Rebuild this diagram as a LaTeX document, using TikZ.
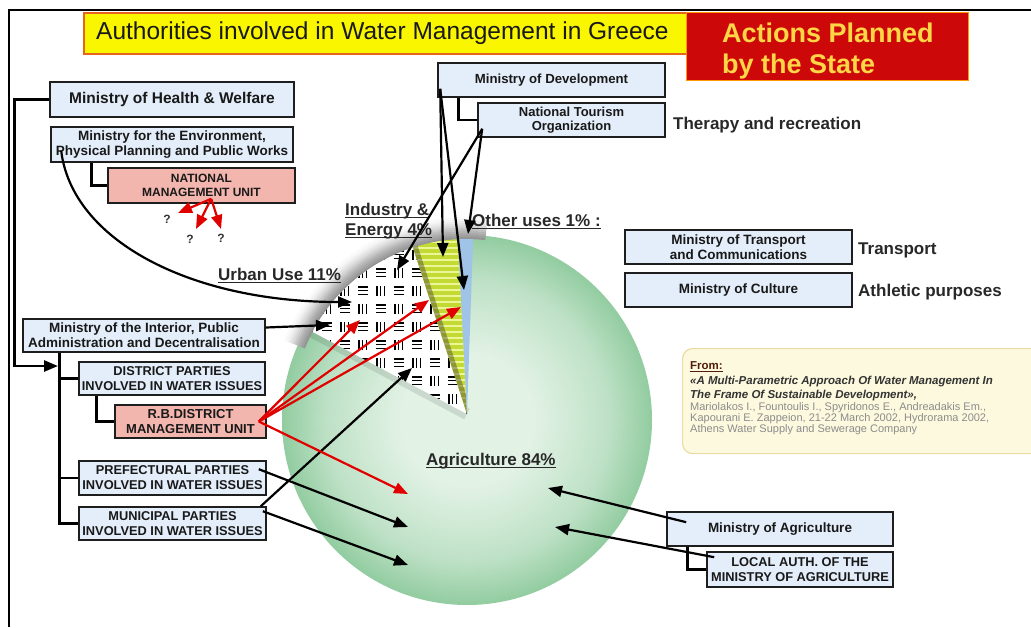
\documentclass[tikz,border=0pt]{standalone}
\usepackage{fontspec}
\setmainfont{Liberation Sans}
\usetikzlibrary{arrows.meta,calc}
\definecolor{boxblue}{RGB}{228,238,250}
\definecolor{boxpink}{RGB}{242,182,174}
\definecolor{boxline}{RGB}{30,30,30}
\definecolor{titley}{RGB}{250,246,0}
\definecolor{titleb}{RGB}{230,100,30}
\definecolor{redbox}{RGB}{204,8,8}
\definecolor{goldtxt}{RGB}{255,214,70}
\definecolor{arrred}{RGB}{225,0,0}
\definecolor{lbl}{RGB}{40,40,40}
\definecolor{gcA}{RGB}{226,242,229}
\definecolor{gcB}{RGB}{190,225,198}
\definecolor{gcC}{RGB}{146,204,160}
\definecolor{ylw}{RGB}{196,218,52}
\definecolor{ylwl}{RGB}{236,246,150}
\definecolor{blu}{RGB}{160,196,232}
\definecolor{frombg}{RGB}{253,249,222}
\definecolor{fromln}{RGB}{232,222,165}
\definecolor{grtxt}{RGB}{140,140,140}
\definecolor{fromc}{RGB}{80,30,10}
\pgfdeclareradialshading{discshade}{\pgfpoint{0bp}{0bp}}{color(0bp)=(gcA); color(9bp)=(gcA); color(19bp)=(gcB); color(25bp)=(gcC); color(50bp)=(gcC)}
\newlength\ulw
\newcommand\myul[2][1.3pt]{\settowidth\ulw{#2}\rlap{\rule[-2.8pt]{\ulw}{#1}}#2}
\begin{document}
\begin{tikzpicture}[x=1pt,y=1pt,
  box/.style={draw=boxline, line width=1.6pt, fill=boxblue, inner sep=0pt, align=center, text=black!90, font=\bfseries\fontsize{13.5}{15}\selectfont},
  pbox/.style={box, fill=boxpink},
  capbox/.style={box, font=\bfseries\fontsize{12.8}{15}\selectfont},
  tree/.style={line width=2.6pt, black},
  arr/.style={line width=2.2pt, -{Triangle[length=14pt,width=11pt]}},
  rarr/.style={arr, arrred},
  lab/.style={font=\bfseries\fontsize{17}{20}\selectfont, text=lbl, inner sep=0pt, anchor=base west},
  src/.style={inner sep=0pt, anchor=base west},
  qm/.style={font=\bfseries\fontsize{12}{14}\selectfont, text=black!80, inner sep=0pt}]
\useasboundingbox (0,0) rectangle (1031,-627);
\fill[white] (0,0) rectangle (1031,-627);
% frame
\draw[line width=2.5pt] (9,-627) -- (9,-10) -- (1031,-10);
% ---------- pie ----------
\coordinate (apex) at (467,-414);
\shade[shading=discshade] (467,-420) circle[radius=185pt];
\draw[line width=12pt, black, opacity=0.10] (apex) -- ([shift={(apex)}]152:184);
\foreach \r/\c in {176/42,178/38,180/34,182/30,184/25,186/20,188/15,190/11,192/7,194/4,196/2}
  \draw[line width=2.3pt, black!\c] ([shift={(apex)}]84:\r) arc[start angle=84, end angle=158, radius=\r pt];
% urban slice
\begin{scope}
\clip (apex) -- ([shift={(apex)}]108:175) arc[start angle=108, end angle=152, radius=175pt] -- cycle;
\fill[white] (280,-220) rectangle (480,-420);
\foreach \i in {0,...,10}{
  \foreach \j in {0,...,10}{
    \ifodd\numexpr\i+\j\relax
      \foreach \k in {0,1,2} \draw[line width=1.3pt] (300+18*\i+5+3.6*\k,-228-18*\j-4) -- ++(0,-10);
    \else
      \foreach \k in {0,1,2} \draw[line width=1.3pt] (300+18*\i+4,-228-18*\j-5-3.6*\k) -- ++(10,0);
    \fi
  }
}
\end{scope}
% industry slice
\begin{scope}
\clip (apex) -- ([shift={(apex)}]93:175) arc[start angle=93, end angle=108, radius=175pt] -- cycle;
\fill[ylw] (390,-230) rectangle (480,-420);
\foreach \k in {0,...,31} \draw[ylwl, line width=2pt] (390,-236-6*\k) -- ++(90,0);
\draw[line width=10pt, black!60!olive, opacity=0.45] (apex) -- ([shift={(apex)}]108:180);
\end{scope}
% other uses slice
\fill[blu] (apex) -- ([shift={(apex)}]88:175) arc[start angle=88, end angle=93, radius=175pt] -- cycle;
% ---------- title ----------
\node[draw=titleb, line width=2pt, fill=titley, minimum width=607pt, minimum height=41pt, anchor=north west, inner sep=0pt] (titlebox) at (83,-12) {};
\node[src, font=\fontsize{24.5}{28}\selectfont, text=black!90] (titletext) at (96,-39) {Authorities involved in Water Management in Greece};
\node[draw=orange!80!yellow, line width=1pt, fill=redbox, minimum width=282pt, minimum height=68pt, anchor=north west, inner sep=0pt] (actbox) at (686,-12) {};
\node[src, font=\bfseries\fontsize{27}{31}\selectfont, text=goldtxt] (act1) at (722,-42) {Actions Planned};
\node[src, font=\bfseries\fontsize{27}{31}\selectfont, text=goldtxt] (act2) at (722,-73) {by the State};
% ---------- labels ----------
\node[lab] (lurb) at (218,-280) {\myul{Urban Use 11\%}};
\node[lab] (lind1) at (345,-215) {\myul{Industry \&}};
\node[lab] (lind2) at (345,-235) {\myul{Energy 4\%}};
\node[lab] (loth) at (472,-226) {\myul{Other uses 1\% :}};
\node[lab] (lagr) at (426,-465) {\myul{Agriculture 84\%}};
\node[lab] (lther) at (673,-129) {Therapy and recreation};
\node[lab] (ltra) at (858,-254) {Transport};
\node[lab] (lath) at (858,-296) {Athletic purposes};
% ---------- source box ----------
\node[draw=fromln, line width=1.2pt, fill=frombg, rounded corners=10pt, minimum width=370pt, minimum height=105pt, anchor=north west, inner sep=0pt] (frombox) at (682,-348) {};
\node[src, font=\bfseries\fontsize{11.5}{13}\selectfont, text=fromc] (f1) at (690,-369) {\myul[1pt]{From:}};
\node[src, font=\bfseries\itshape\fontsize{11.5}{13}\selectfont, text=black!80] (f2) at (690,-384) {«A Multi-Parametric Approach Of Water Management In};
\node[src, font=\bfseries\itshape\fontsize{11.5}{13}\selectfont, text=black!80] (f3) at (690,-398) {The Frame Of Sustainable Development»,};
\node[src, font=\fontsize{11}{12}\selectfont, text=grtxt] (f4) at (690,-410) {Mariolakos I., Fountoulis I., Spyridonos E., Andreadakis Em.,};
\node[src, font=\fontsize{11}{12}\selectfont, text=grtxt] (f5) at (690,-421) {Kapourani E. Zappeion, 21-22 March 2002, Hydrorama 2002,};
\node[src, font=\fontsize{11}{12}\selectfont, text=grtxt] (f6) at (690,-432) {Athens Water Supply and Sewerage Company};
% ---------- boxes ----------
\node[box, font=\bfseries\fontsize{15.5}{18}\selectfont, minimum width=244pt, minimum height=35pt] (health) at (172,-99.5) {Ministry of Health \& Welfare};
\node[box, minimum width=242pt, minimum height=35pt] (env) at (172,-144.5) {Ministry for the Environment,\\Physical Planning and Public Works};
\node[pbox, font=\bfseries\fontsize{12}{14.5}\selectfont, minimum width=187pt, minimum height=35pt] (nmu) at (201.5,-185.5) {NATIONAL\\MANAGEMENT UNIT};
\node[box, font=\bfseries\fontsize{13.2}{15}\selectfont, minimum width=227pt, minimum height=34pt] (mindev) at (551.5,-80) {Ministry of Development};
\node[box, font=\bfseries\fontsize{13}{14.5}\selectfont, minimum width=187pt, minimum height=34pt] (tourism) at (571.5,-120) {National Tourism\\Organization};
\node[box, minimum width=227pt, minimum height=34pt] (transport) at (738.5,-247) {Ministry of Transport\\and Communications};
\node[box, minimum width=227pt, minimum height=34pt] (culture) at (738.5,-290) {Ministry of Culture};
\node[box, minimum width=242pt, minimum height=33pt] (interior) at (144,-335.5) {Ministry of the Interior, Public\\Administration and Decentralisation};
\node[capbox, minimum width=186pt, minimum height=33pt] (district) at (172,-378.5) {DISTRICT PARTIES\\INVOLVED IN WATER ISSUES};
\node[pbox, font=\bfseries\fontsize{13}{14.5}\selectfont, minimum width=151pt, minimum height=33pt] (rb) at (190.5,-421.5) {R.B.DISTRICT\\MANAGEMENT UNIT};
\node[capbox, minimum width=187pt, minimum height=34pt] (pref) at (172.5,-478) {PREFECTURAL PARTIES\\INVOLVED IN WATER ISSUES};
\node[capbox, minimum width=187pt, minimum height=33pt] (muni) at (172.5,-523.5) {MUNICIPAL PARTIES\\INVOLVED IN WATER ISSUES};
\node[box, minimum width=226pt, minimum height=34pt] (agri) at (780,-529) {Ministry of Agriculture};
\node[capbox, minimum width=186pt, minimum height=35pt] (local) at (800,-569.5) {LOCAL AUTH. OF THE\\MINISTRY OF AGRICULTURE};
% ---------- tree connectors ----------
\coordinate (tTrunk) at (58,-366);
\draw[tree, -{Triangle[length=14pt,width=11pt]}] (health.west) -- ++(-35,0) |- (tTrunk);
\draw[tree] ([xshift=41pt]env.south west) |- (nmu.west);
\draw[tree] ([xshift=21pt]mindev.south west) |- (tourism.west);
\draw[tree] ([xshift=37pt]interior.south west) |- (muni.west);
\draw[tree] ([xshift=37pt]interior.south west) |- (district.west);
\draw[tree] ([xshift=37pt]interior.south west) |- (pref.west);
\draw[tree] ([xshift=18pt]district.south west) |- (rb.west);
\draw[tree] ([xshift=21pt]agri.south west) |- (local.west);
% ---------- arrow targets ----------
\coordinate (tUrbA) at (397,-270);
\coordinate (tYel) at (443,-257);
\coordinate (tOthA) at (468,-234);
\coordinate (tOthB) at (464,-290);
\coordinate (tEnv) at (352,-302);
\coordinate (tInt) at (330,-325);
\coordinate (tMun) at (412,-368);
\coordinate (tPref) at (408,-527);
\coordinate (tMun2) at (408,-565);
\coordinate (tR1) at (360,-320);
\coordinate (tR2) at (429,-300);
\coordinate (tR3) at (461,-307);
\coordinate (tR4) at (408,-494);
\coordinate (tAg1) at (548,-488);
\coordinate (tAg2) at (555,-527);
\coordinate (tN1) at (178,-213);
\coordinate (tN2) at (196,-229);
\coordinate (tN3) at (221,-229);
% ---------- arrows ----------
\draw[arr] ([shift={(5,9)}]tourism.south west) -- (tUrbA);
\draw[arr] ([shift={(5,9)}]tourism.south west) -- (tOthA);
\draw[arr] ([shift={(3,9)}]mindev.south west) -- (tYel);
\draw[arr] ([shift={(3,9)}]mindev.south west) -- (tOthB);
\draw[arr] ([shift={(11,12)}]env.south west) .. controls (72,-240) and (190,-302) .. (tEnv);
\draw[arr] ([yshift=8pt]interior.east) -- (tInt);
\draw[arr] ([shift={(-6,0)}]muni.north east) -- (tMun);
\draw[arr] ([shift={(-8,-9)}]pref.north east) -- (tPref);
\draw[arr] ([shift={(-4,-5)}]muni.north east) -- (tMun2);
\draw[arr] ([shift={(20,-11)}]agri.north west) -- (tAg1);
\draw[arr] ([shift={(8,-6)}]local.north west) -- (tAg2);
\draw[rarr] ([xshift=-8pt]rb.east) -- (tR1);
\draw[rarr] ([xshift=-8pt]rb.east) -- (tR2);
\draw[rarr] ([xshift=-8pt]rb.east) -- (tR3);
\draw[rarr] ([xshift=-8pt]rb.east) -- (tR4);
\draw[rarr] ([shift={(104,5)}]nmu.south west) -- (tN1);
\draw[rarr] ([shift={(104,5)}]nmu.south west) -- (tN2);
\draw[rarr] ([shift={(104,5)}]nmu.south west) -- (tN3);
\node[qm] (q1) at (167,-219) {?};
\node[qm] (q2) at (190,-239) {?};
\node[qm] (q3) at (221,-238) {?};
\end{tikzpicture}
\end{document}
